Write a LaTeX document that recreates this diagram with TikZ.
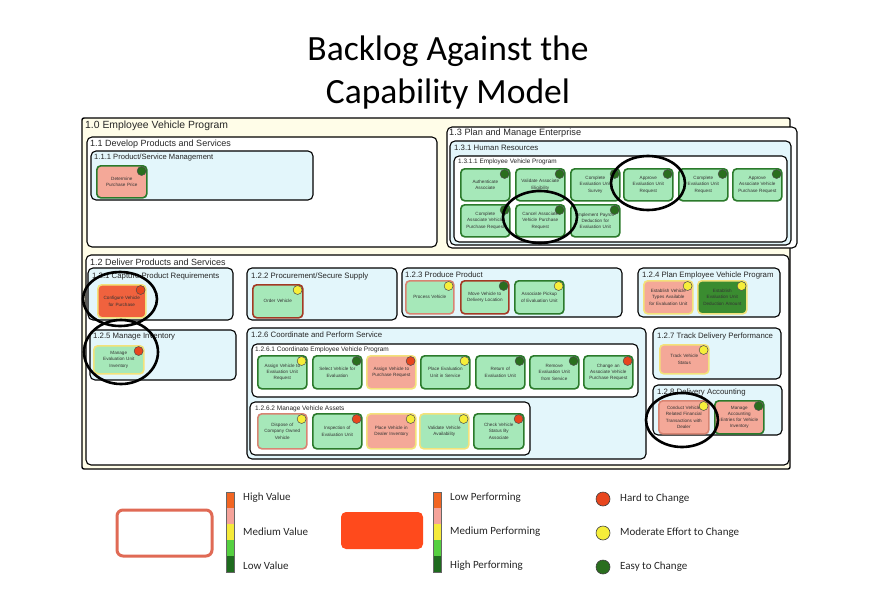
\documentclass[tikz,border=0pt]{standalone}
\usepackage{fontspec}
\setmainfont{Liberation Sans}
\newfontfamily\calib{Carlito}
\definecolor{cyanbg}{HTML}{E3F6FB}
\definecolor{creambg}{HTML}{FFFDE8}
\definecolor{ltgreen}{HTML}{A6E8B9}
\definecolor{dkgreen}{HTML}{2B7A2B}
\definecolor{pinkf}{HTML}{F4A898}
\definecolor{yelb}{HTML}{F3E27A}
\definecolor{dkred}{HTML}{A33A24}
\definecolor{pinkb}{HTML}{D88472}
\definecolor{orangef}{HTML}{F0623E}
\definecolor{midgreen}{HTML}{3A8C30}
\definecolor{dotgreen}{HTML}{2A6E1E}
\definecolor{dotyel}{HTML}{F6EE3A}
\definecolor{dotred}{HTML}{E8461E}
\definecolor{lgorange}{HTML}{F26522}
\definecolor{lgpink}{HTML}{F5A39A}
\definecolor{lgyel}{HTML}{F5EA3A}
\definecolor{lglgreen}{HTML}{55D040}
\definecolor{lgdgreen}{HTML}{1E6B1E}
\definecolor{lgrect}{HTML}{E06A55}
\definecolor{lgfill}{HTML}{FF4A1C}
\tikzset{
  cont/.style={draw=black, line width=1.1pt, rounded corners=5pt},
  ttl/.style={anchor=west, inner sep=0pt, text=black!85},
  act/.style={draw=dkgreen, fill=ltgreen, line width=1.6pt, rounded corners=4pt,
    minimum width=49pt, minimum height=33pt, text width=47pt, align=center,
    inner sep=0pt, anchor=north west, text=black!80,
    font=\fontsize{4.6}{6.2}\selectfont},
  dot/.style={circle, draw=black!70, line width=0.5pt, minimum size=9pt, inner sep=0pt},
  ring/.style={draw=black, line width=2.6pt},
  lgtext/.style={anchor=west, inner sep=0pt, font=\calib\fontsize{11}{13}\selectfont, text=black!85},
  lgdot/.style={circle, draw=black!75, line width=0.6pt, minimum size=14pt, inner sep=0pt},
}
\begin{document}
\begin{tikzpicture}[x=1pt, y=-1pt]
\useasboundingbox[fill=white] (0,0) rectangle (883,608);
% title
\node[font=\calib\fontsize{35.5}{40}\selectfont] (t1) at (448,51) {Backlog Against the};
\node[font=\calib\fontsize{35.5}{40}\selectfont] (t2) at (448,94) {Capability Model};

% containers
\draw[cont, fill=creambg, line width=1.4pt, rounded corners=2pt] (82,118) rectangle (790,469);
\node[ttl, font=\fontsize{10.4}{12}\selectfont] (h10) at (85,126) {1.0 Employee Vehicle Program};
\draw[cont, fill=white] (87,137) rectangle (437,247);
\node[ttl, font=\fontsize{9}{11}\selectfont] (h11) at (90,144) {1.1 Develop Products and Services};
\draw[cont, fill=cyanbg] (91,151) rectangle (313,200);
\node[ttl, font=\fontsize{7.6}{9}\selectfont] (h111) at (94,158) {1.1.1 Product/Service Management};

\draw[cont, fill=white] (447,127) rectangle (797,248);
\node[ttl, font=\fontsize{9.2}{11}\selectfont] (h13) at (449,133) {1.3 Plan and Manage Enterprise};
\draw[cont, fill=cyanbg] (450,141) rectangle (791,245);
\node[ttl, font=\fontsize{7.8}{9}\selectfont] (h131) at (454,148) {1.3.1 Human Resources};
\draw[cont, fill=white] (454,156) rectangle (787,242);
\node[ttl, font=\fontsize{6.4}{8}\selectfont] (h1311) at (458,162) {1.3.1.1 Employee Vehicle Program};

\draw[cont, fill=white] (86,255) rectangle (789,465);
\node[ttl, font=\fontsize{9}{11}\selectfont] (h12) at (90,262) {1.2 Deliver Products and Services};
\draw[cont, fill=cyanbg] (88,268) rectangle (233,320);
\node[ttl, font=\fontsize{7.8}{9}\selectfont] (h121) at (92,276) {1.2.1 Capture Product Requirements};
\draw[cont, fill=cyanbg] (247,268) rectangle (397,320);
\node[ttl, font=\fontsize{7.8}{9}\selectfont] (h122) at (251,276) {1.2.2 Procurement/Secure Supply};
\draw[cont, fill=cyanbg] (402,268) rectangle (622,317);
\node[ttl, font=\fontsize{7.8}{9}\selectfont] (h123) at (405,275) {1.2.3 Produce Product};
\draw[cont, fill=cyanbg] (638,268) rectangle (780,317);
\node[ttl, font=\fontsize{7.8}{9}\selectfont] (h124) at (642,275) {1.2.4 Plan Employee Vehicle Program};
\draw[cont, fill=cyanbg] (90,330) rectangle (236,380);
\node[ttl, font=\fontsize{7.8}{9}\selectfont] (h125) at (93,337) {1.2.5 Manage Inventory};
\draw[cont, fill=cyanbg] (247,328) rectangle (646,459);
\node[ttl, font=\fontsize{7.8}{9}\selectfont] (h126) at (251,335) {1.2.6 Coordinate and Perform Service};
\draw[cont, fill=white] (252,344) rectangle (638,397);
\node[ttl, font=\fontsize{6.5}{8}\selectfont] (h1261) at (255,350) {1.2.6.1 Coordinate Employee Vehicle Program};
\draw[cont, fill=white] (250,402) rectangle (530,455);
\node[ttl, font=\fontsize{6.5}{8}\selectfont] (h1262) at (255,409) {1.2.6.2 Manage Vehicle Assets};
\draw[cont, fill=cyanbg] (653,328) rectangle (781,379);
\node[ttl, font=\fontsize{7.8}{9}\selectfont] (h127) at (657,336) {1.2.7 Track Delivery Performance};
\draw[cont, fill=cyanbg] (653,385) rectangle (782,435);
\node[ttl, font=\fontsize{7.8}{9}\selectfont] (h128) at (657,392) {1.2.8 Delivery Accounting};

% activities
\node[act, fill=pinkf, minimum width=50pt, minimum height=32pt] (n1) at (96,165) {Determine\\Purchase Price};
\node[dot, fill=dotgreen] (d1) at ([xshift=-6pt,yshift=-6pt]n1.north east) {};

\node[act, minimum height=32pt] (a1) at (460,168) {Authenticate\\Associate};
\node[act, minimum height=32pt] (a2) at (515,168) {Validate Associate\\Eligibility};
\node[act, minimum height=32pt] (a3) at (570,168) {Complete\\Evaluation Unit\\Survey};
\node[act, minimum height=32pt] (a4) at (623,168) {Approve\\Evaluation Unit\\Request};
\node[act, minimum height=32pt] (a5) at (678,168) {Complete\\Evaluation Unit\\Request};
\node[act, minimum height=32pt] (a6) at (732,168) {Approve\\Associate Vehicle\\Purchase Request};
\node[act, minimum height=32pt] (a7) at (460,204) {Complete\\Associate Vehicle\\Purchase Request};
\node[act, minimum height=32pt] (a8) at (515,204) {Cancel Associate\\Vehicle Purchase\\Request};
\node[act, minimum height=32pt] (a9) at (570,204) {Implement Payroll\\Deduction for\\Evaluation Unit};
\foreach \n in {a1,a2,a3,a4,a5,a6,a7,a8,a9}
  \node[dot, fill=dotgreen] (\n-d) at ([xshift=-6pt,yshift=-6pt]\n.north east) {};

\node[act, fill=orangef, draw=yelb, minimum width=48pt] (b1) at (97,284) {Configure Vehicle\\for Purchase};
\node[dot, fill=dotred] (b1-d) at ([xshift=-6pt,yshift=-6pt]b1.north east) {};
\node[act, draw=dkred, minimum width=50pt] (b2) at (252,284) {Order Vehicle};
\node[dot, fill=dotyel] (b2-d) at ([xshift=-6pt,yshift=-6pt]b2.north east) {};
\node[act, draw=pinkb, minimum width=48pt] (b3) at (405,280) {Process Vehicle};
\node[dot, fill=dotyel] (b3-d) at ([xshift=-6pt,yshift=-6pt]b3.north east) {};
\node[act, draw=dkred, minimum width=48pt] (b4) at (460,280) {Move Vehicle to\\Delivery Location};
\node[dot, fill=dotgreen] (b4-d) at ([xshift=-6pt,yshift=-6pt]b4.north east) {};
\node[act, minimum width=49pt] (b5) at (514,280) {Associate Pickup\\of Evaluation Unit};
\node[dot, fill=dotyel] (b5-d) at ([xshift=-6pt,yshift=-6pt]b5.north east) {};
\node[act, fill=pinkf, draw=yelb] (b6) at (643,280) {Establish Vehicle\\Types Available\\for Evaluation Unit};
\node[dot, fill=dotyel] (b6-d) at ([xshift=-6pt,yshift=-6pt]b6.north east) {};
\node[act, fill=midgreen, draw=yelb] (b7) at (697,280) {Establish\\Evaluation Unit\\Deduction Amount};
\node[dot, fill=dotyel] (b7-d) at ([xshift=-6pt,yshift=-6pt]b7.north east) {};

\node[act, draw=yelb, minimum width=50pt, minimum height=28pt] (c1) at (93,345) {Manage\\Evaluation Unit\\Inventory};
\node[dot, fill=dotred] (c1-d) at ([xshift=-6pt,yshift=-6pt]c1.north east) {};

\node[act] (e1) at (257,355) {Assign Vehicle to\\Evaluation Unit\\Request};
\node[dot, fill=dotyel] (e1-d) at ([xshift=-6pt,yshift=-6pt]e1.north east) {};
\node[act] (e2) at (312,355) {Select Vehicle for\\Evaluation};
\node[dot, fill=dotgreen] (e2-d) at ([xshift=-6pt,yshift=-6pt]e2.north east) {};
\node[act, fill=pinkf, draw=yelb] (e3) at (366,355) {Assign Vehicle to\\Purchase Request};
\node[dot, fill=dotred] (e3-d) at ([xshift=-6pt,yshift=-6pt]e3.north east) {};
\node[act] (e4) at (420,355) {Place Evaluation\\Unit in Service};
\node[dot, fill=dotyel] (e4-d) at ([xshift=-6pt,yshift=-6pt]e4.north east) {};
\node[act] (e5) at (475,355) {Return of\\Evaluation Unit};
\node[dot, fill=dotgreen] (e5-d) at ([xshift=-6pt,yshift=-6pt]e5.north east) {};
\node[act] (e6) at (529,355) {Remove\\Evaluation Unit\\from Service};
\node[dot, fill=dotgreen] (e6-d) at ([xshift=-6pt,yshift=-6pt]e6.north east) {};
\node[act] (e7) at (583,355) {Change an\\Associate Vehicle\\Purchase Request};
\node[dot, fill=dotred] (e7-d) at ([xshift=-6pt,yshift=-6pt]e7.north east) {};

\node[act, draw=pinkb, minimum height=35pt] (f1) at (257,413) {Dispose of\\Company Owned\\Vehicle};
\node[dot, fill=dotyel] (f1-d) at ([xshift=-6pt,yshift=-6pt]f1.north east) {};
\node[act, minimum height=35pt] (f2) at (312,413) {Inspection of\\Evaluation Unit};
\node[dot, fill=dotred] (f2-d) at ([xshift=-6pt,yshift=-6pt]f2.north east) {};
\node[act, fill=pinkf, draw=yelb, minimum height=35pt] (f3) at (366,413) {Place Vehicle in\\Dealer Inventory};
\node[dot, fill=dotyel] (f3-d) at ([xshift=-6pt,yshift=-6pt]f3.north east) {};
\node[act, draw=yelb, minimum height=35pt] (f4) at (419,413) {Validate Vehicle\\Availability};
\node[dot, fill=dotyel] (f4-d) at ([xshift=-6pt,yshift=-6pt]f4.north east) {};
\node[act, minimum height=35pt, minimum width=50pt] (f5) at (473,413) {Check Vehicle\\Status By\\Associate};
\node[dot, fill=dotred] (f5-d) at ([xshift=-6pt,yshift=-6pt]f5.north east) {};

\node[act, fill=pinkf, draw=yelb, minimum height=29pt] (g1) at (659,344) {Track Vehicle\\Status};
\node[dot, fill=dotyel] (g1-d) at ([xshift=-6pt,yshift=-6pt]g1.north east) {};
\node[act, fill=pinkf, draw=pinkb, minimum width=50pt] (h1) at (658,400) {Conduct Vehicle\\Related Financial\\Transactions with\\Dealer};
\node[dot, fill=dotyel] (h1-d) at ([xshift=-6pt,yshift=-6pt]h1.north east) {};
\node[act, fill=pinkf] (h2) at (714,400) {Manage\\Accounting\\Entries for Vehicle\\Inventory};
\node[dot, fill=dotgreen] (h2-d) at ([xshift=-6pt,yshift=-6pt]h2.north east) {};

% highlight rings
\draw[ring] (648,183) ellipse [x radius=37pt, y radius=27pt];
\draw[ring] (540,217) ellipse [x radius=37pt, y radius=26pt];
\draw[ring] (120,299) ellipse [x radius=37pt, y radius=27pt];
\draw[ring] (121,352) ellipse [x radius=37pt, y radius=32pt];
\draw[ring] (682,420) ellipse [x radius=36pt, y radius=27pt];

% legend
\node[draw=lgrect, line width=3pt, rounded corners=6pt, fill=white, minimum width=95pt, minimum height=46pt, inner sep=0pt] (lr1) at (164.5,533) {};
\foreach \c [count=\i from 0] in {lgorange,lgpink,lgyel,lglgreen,lgdgreen}{
  \fill[\c] (226,492+16*\i) rectangle (234,508+16*\i);
  \fill[\c] (433,492+16*\i) rectangle (441,508+16*\i);
}
\draw[black!60, line width=0.4pt] (226,492) rectangle (234,572);
\draw[black!60, line width=0.4pt] (433,492) rectangle (441,572);
\node[lgtext] (l1) at (243,498) {High Value};
\node[lgtext] (l2) at (243,532) {Medium Value};
\node[lgtext] (l3) at (243,566) {Low Value};
\node[fill=lgfill, rounded corners=5pt, minimum width=82pt, minimum height=37pt, inner sep=0pt] (lr2) at (382,530.5) {};
\node[lgtext] (l4) at (450,498) {Low Performing};
\node[lgtext] (l5) at (450,532) {Medium Performing};
\node[lgtext] (l6) at (450,566) {High Performing};
\node[lgdot, fill=dotred] (ld1) at (603,499) {};
\node[lgdot, fill=dotyel] (ld2) at (603,533) {};
\node[lgdot, fill=dotgreen] (ld3) at (603,567) {};
\node[lgtext] (l7) at (620,499) {Hard to Change};
\node[lgtext] (l8) at (620,533) {Moderate Effort to Change};
\node[lgtext] (l9) at (620,567) {Easy to Change};
\end{tikzpicture}
\end{document}
